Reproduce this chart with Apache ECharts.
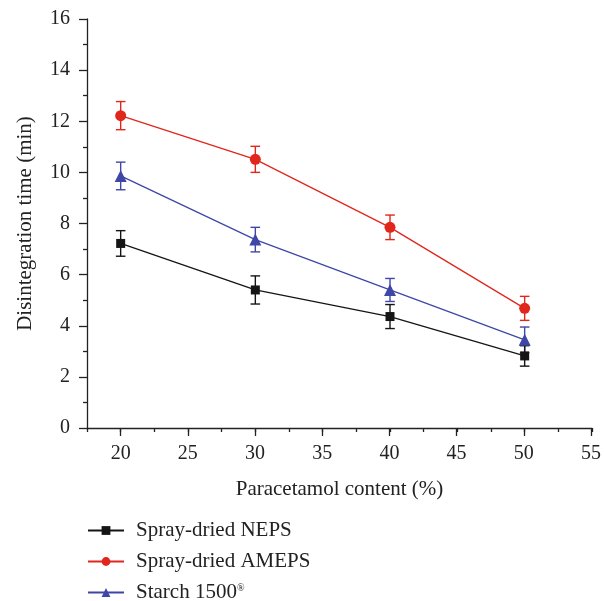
<!DOCTYPE html>
<html>
<head>
<meta charset="utf-8">
<script src="https://cdn.jsdelivr.net/npm/echarts@6/dist/echarts.min.js"></script>
<style>
html,body{margin:0;padding:0;background:#fff;}
#main{width:604px;height:601px;}
</style>
</head>
<body>
<div id="main"></div>
<script>
var xValues = [20, 30, 40, 50];
var seriesNames = ['Spray-dried NEPS', 'Spray-dried AMEPS', 'Starch 1500®'];
var nepsMean = [7.22, 5.40, 4.36, 2.82];
var nepsErr = [0.50, 0.55, 0.47, 0.40];
var amepsMean = [12.22, 10.51, 7.85, 4.68];
var amepsErr = [0.55, 0.51, 0.48, 0.47];
var starchMean = [9.86, 7.37, 5.40, 3.45];
var starchErr = [0.54, 0.48, 0.45, 0.50];
var yTicks = [0, 2, 4, 6, 8, 10, 12, 14, 16];
var xTicks = [20, 25, 30, 35, 40, 45, 50, 55];

var colors = ['#151515', '#e1261c', '#3f47a6'];
var symbols = ['rect', 'circle', 'triangle'];
var symSizes = [9, 11, 12];
var means = [nepsMean, amepsMean, starchMean];
var errs = [nepsErr, amepsErr, starchErr];
var FONT = 'Liberation Serif';
var TXT = '#222';

function pts(m) { return xValues.map(function (x, i) { return [x, m[i]]; }); }
function errData(m, e) { return xValues.map(function (x, i) { return [x, m[i] - e[i], m[i] + e[i]]; }); }

function errSeries(idx) {
  return {
    type: 'custom',
    name: seriesNames[idx] + ' err',
    xAxisIndex: 0, yAxisIndex: 0,
    data: errData(means[idx], errs[idx]),
    z: 1,
    renderItem: function (params, api) {
      var x = api.value(0);
      var lo = api.coord([x, api.value(1)]);
      var hi = api.coord([x, api.value(2)]);
      var w = 4.8;
      var st = { stroke: colors[idx], lineWidth: 1.4 };
      return {
        type: 'group',
        children: [
          { type: 'line', shape: { x1: lo[0], y1: lo[1], x2: hi[0], y2: hi[1] }, style: st },
          { type: 'line', shape: { x1: lo[0] - w, y1: lo[1], x2: lo[0] + w, y2: lo[1] }, style: st },
          { type: 'line', shape: { x1: hi[0] - w, y1: hi[1], x2: hi[0] + w, y2: hi[1] }, style: st }
        ]
      };
    }
  };
}

function lineSeries(idx) {
  return {
    type: 'line',
    name: seriesNames[idx],
    xAxisIndex: 0, yAxisIndex: 0,
    data: pts(means[idx]),
    symbol: symbols[idx],
    symbolSize: symSizes[idx],
    showAllSymbol: true,
    z: 3,
    itemStyle: { color: colors[idx] },
    lineStyle: { color: colors[idx], width: 1.3 },
    emphasis: { disabled: true }
  };
}

var chart = echarts.init(document.getElementById('main'), null, { renderer: 'canvas' });
var option = {
  animation: false,
  backgroundColor: '#ffffff',
  textStyle: { fontFamily: FONT },
  grid: [
    { left: 87, right: 12, top: 19, bottom: 173 },
    { left: 87 + 2.5 * 505 / 37.5, right: 12, top: 19, bottom: 173 }
  ],
  legend: {
    orient: 'vertical',
    left: 87,
    top: 520,
    height: 100,
    padding: 0,
    itemWidth: 36,
    itemHeight: 11,
    itemGap: 10,
    data: seriesNames,
    textStyle: {
      fontFamily: FONT, fontSize: 21, lineHeight: 19, color: TXT, padding: [0, 0, 0, 7],
      rich: { sup: { fontFamily: FONT, fontSize: 10, lineHeight: 10, verticalAlign: 'top', padding: [0, 0, 9, 0], color: TXT } }
    },
    formatter: function (n) { return n.indexOf('®') >= 0 ? n.replace('®', '{sup|®}') : n; }
  },
  xAxis: [
    {
      type: 'value', gridIndex: 0, min: 17.5, max: 55, interval: 2.5,
      name: 'Paracetamol content (%)', nameLocation: 'middle', nameGap: 51,
      nameTextStyle: { fontFamily: FONT, fontSize: 21, color: TXT },
      axisLine: { show: true, onZero: false, lineStyle: { color: '#222', width: 1.3 } },
      axisTick: { show: true, length: 4, lineStyle: { color: '#222', width: 1.3 } },
      axisLabel: { show: false },
      splitLine: { show: false }
    },
    {
      type: 'value', gridIndex: 1, min: 20, max: 55, interval: 5,
      axisLine: { show: false, onZero: false },
      axisTick: { show: true, length: 8, lineStyle: { color: '#222', width: 1.3 } },
      axisLabel: { show: true, margin: 16, fontFamily: FONT, fontSize: 20, color: TXT,
        formatter: function (v) { return xTicks.indexOf(v) >= 0 ? String(v) : ''; } },
      splitLine: { show: false }
    }
  ],
  yAxis: [
    {
      type: 'value', gridIndex: 0, min: 0, max: 16, interval: 2,
      name: 'Disintegration time (min)', nameLocation: 'middle', nameGap: 51,
      nameTextStyle: { fontFamily: FONT, fontSize: 21, color: TXT },
      axisLine: { show: true, onZero: false, lineStyle: { color: '#222', width: 1.3 } },
      axisTick: { show: true, length: 8, lineStyle: { color: '#222', width: 1.3 } },
      minorTick: { show: true, splitNumber: 2, length: 4, lineStyle: { color: '#222', width: 1.3 } },
      axisLabel: { margin: 17, fontFamily: FONT, fontSize: 20, color: TXT,
        formatter: function (v) { return yTicks.indexOf(v) >= 0 ? String(v) : ''; } },
      splitLine: { show: false }
    },
    {
      type: 'value', gridIndex: 1, min: 0, max: 16, show: false
    }
  ],
  series: [
    errSeries(2), errSeries(1), errSeries(0),
    lineSeries(2), lineSeries(1), lineSeries(0)
  ]
};
chart.setOption(option);
</script>
</body>
</html>
